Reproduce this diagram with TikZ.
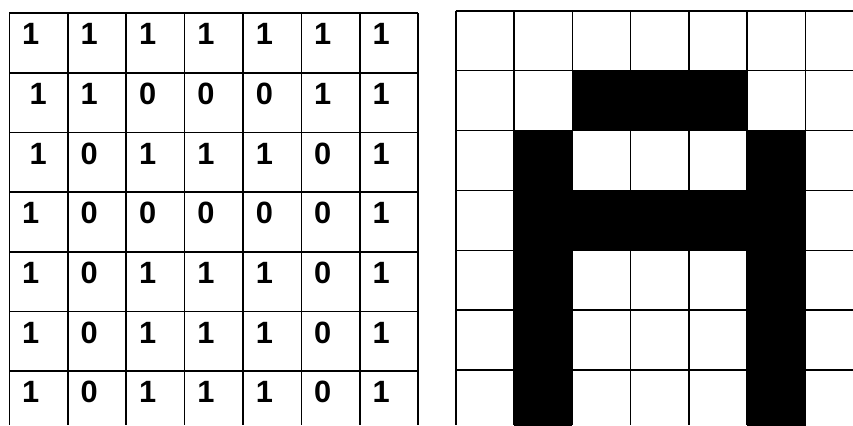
\documentclass[tikz,border=0pt]{standalone}
\usepackage{fontspec}
\setmainfont{Liberation Sans}
\begin{document}
\begin{tikzpicture}[x=0.5pt,y=-0.5pt,line width=0.8pt,
    bit/.style={inner sep=0pt,font=\fontsize{15.4}{16}\selectfont\bfseries}]
    \useasboundingbox (0,0) rectangle (853,425);

    %left grid (cut at the bottom)
    \foreach \i in {0,...,7}
        \draw (9.3+58.4*\i,13) -- (9.3+58.4*\i,425);
    \foreach \j in {0,...,6}
        \draw (9.3,13+59.7*\j) -- (418,13+59.7*\j);

    %right grid (cut at the right and the bottom)
    \foreach \i in {0,...,6}
        \draw (455.7+58.3*\i,10.7) -- (455.7+58.3*\i,425);
    \foreach \j in {0,...,6}
        \draw (455.7,10.7+59.9*\j) -- (853,10.7+59.9*\j);

    %bits and the pixels they give
    \foreach \row [count=\r] in {{1,1,1,1,1,1,1},{1,1,0,0,0,1,1},{1,0,1,1,1,0,1},
            {1,0,0,0,0,0,1},{1,0,1,1,1,0,1},{1,0,1,1,1,0,1},{1,0,1,1,1,0,1}}{
        \foreach \b [count=\c] in \row {
            \pgfmathsetmacro\dx{(\c==1 && (\r==2 || \r==3)) ? 29 : 21.5}
            \node[bit] (b\r\c) at (9.3+58.4*\c-58.4+\dx,13+59.7*\r-59.7+21) {\b};
            \ifnum\b=0
                \fill (455.7+58.3*\c-58.3,10.7+59.9*\r-59.9) rectangle (455.7+58.3*\c,10.7+59.9*\r);
            \fi
        }
    }
\end{tikzpicture}
\end{document}
